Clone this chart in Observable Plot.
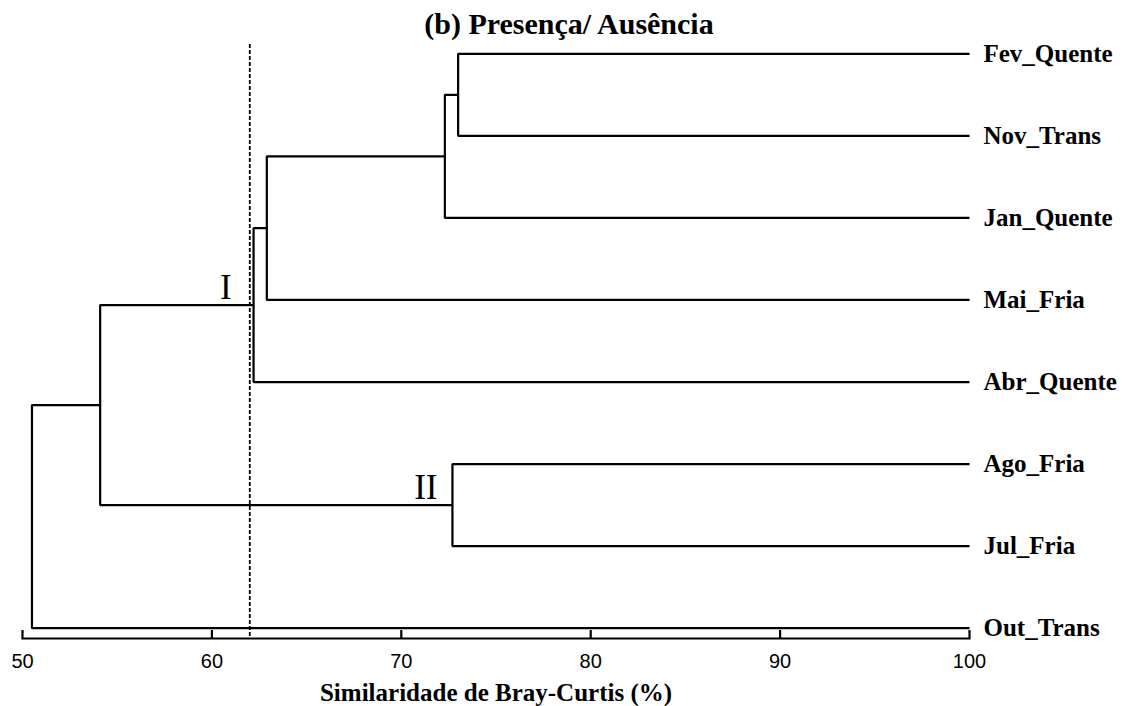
<!DOCTYPE html>
<html>
<head>
<meta charset="utf-8">
<script src="https://cdn.jsdelivr.net/npm/d3@7"></script>
<script src="https://cdn.jsdelivr.net/npm/@observablehq/plot@0.6"></script>
<style>
  html, body { margin: 0; padding: 0; background: #fff; }
  #chart svg { display: block; }
</style>
</head>
<body>
<div id="chart"></div>
<script>
// Leaves, top to bottom
const leaves = ["Fev_Quente", "Nov_Trans", "Jan_Quente", "Mai_Fria", "Abr_Quente", "Ago_Fria", "Jul_Fria", "Out_Trans"];
// Agglomeration steps (similarity %, Bray-Curtis)
const mergeIds = ["C1", "C2", "C3", "C4", "C5", "C6", "C7"];
const mergeLeft = ["Fev_Quente", "C1", "C2", "C3", "Ago_Fria", "C4", "C6"];
const mergeRight = ["Nov_Trans", "Jan_Quente", "Mai_Fria", "Abr_Quente", "Jul_Fria", "C5", "Out_Trans"];
const mergeSimilarity = [73.0, 72.3, 62.9, 62.2, 72.7, 54.1, 50.5];
// Cut-off level
const cutoff = [62.0];
// Group labels
const groupLabels = ["I", "II"];
const groupNodes = ["C4", "C5"];
// Axis
const xTicks = [50, 60, 70, 80, 90, 100];
const title = "(b) Presença/ Ausência";
const xLabel = "Similaridade de Bray-Curtis (%)";

// Build tree geometry (elbow polylines) from the data
const nodes = new Map();
leaves.forEach((name, i) => nodes.set(name, {x: 100, y: i}));
const elbows = [];
mergeIds.forEach((id, i) => {
  const a = nodes.get(mergeLeft[i]);
  const b = nodes.get(mergeRight[i]);
  const s = mergeSimilarity[i];
  elbows.push({id, x: a.x, y: a.y});
  elbows.push({id, x: s, y: a.y});
  elbows.push({id, x: s, y: b.y});
  elbows.push({id, x: b.x, y: b.y});
  nodes.set(id, {x: s, y: (a.y + b.y) / 2});
});
const leafData = leaves.map((name, i) => ({name, x: 100, y: i}));
const groupData = groupLabels.map((label, i) => ({label, ...nodes.get(groupNodes[i])}));

const serif = "'Liberation Serif', 'Times New Roman', serif";
const sans = "'Liberation Sans', Arial, sans-serif";

const chart = Plot.plot({
  width: 1122,
  height: 706,
  marginTop: 44,
  marginBottom: 68,
  marginLeft: 22,
  marginRight: 153,
  style: {background: "#fff", color: "#000", overflow: "visible"},
  x: {domain: [50, 100], axis: null},
  y: {domain: [0, 7], range: [53.3, 627.7], axis: null},
  marks: [
    Plot.ruleX(cutoff, {x: d => d, stroke: "#000", strokeWidth: 1.8, strokeDasharray: "4,2"}),
    Plot.line(elbows, {x: "x", y: "y", z: "id", stroke: "#000", strokeWidth: 2.2, curve: "linear", strokeLinejoin: "miter", strokeLinecap: "butt"}),
    Plot.text(leafData, {x: "x", y: "y", text: "name", textAnchor: "start", dx: 14, fontSize: 25, fontWeight: "bold", fontFamily: serif, fill: "#000"}),
    Plot.text(groupData.slice(0, 1), {x: "x", y: "y", text: "label", textAnchor: "end", lineAnchor: "bottom", dx: -22, dy: -6, fontSize: 35, fontFamily: serif, fill: "#000"}),
    Plot.text(groupData.slice(1), {x: "x", y: "y", text: "label", textAnchor: "end", lineAnchor: "bottom", dx: -15, dy: -6, fontSize: 35, fontFamily: serif, fill: "#000"}),
    Plot.frame({anchor: "bottom", stroke: "#000", strokeWidth: 2.2}),
    Plot.axisX(xTicks, {tickSize: -8, tickPadding: 23, strokeWidth: 2.2, fontSize: 20, fontFamily: sans, label: null, tickFormat: d => String(d)}),
    Plot.text([title], {text: d => d, frameAnchor: "top", lineAnchor: "bottom", dx: 73, dy: -11, fontSize: 30, fontWeight: "bold", fontFamily: serif, fill: "#000"}),
    Plot.text([xLabel], {text: d => d, frameAnchor: "bottom", lineAnchor: "bottom", dy: 62, fontSize: 25, fontWeight: "bold", fontFamily: serif, fill: "#000"})
  ]
});
document.getElementById("chart").appendChild(chart);
</script>
</body>
</html>
